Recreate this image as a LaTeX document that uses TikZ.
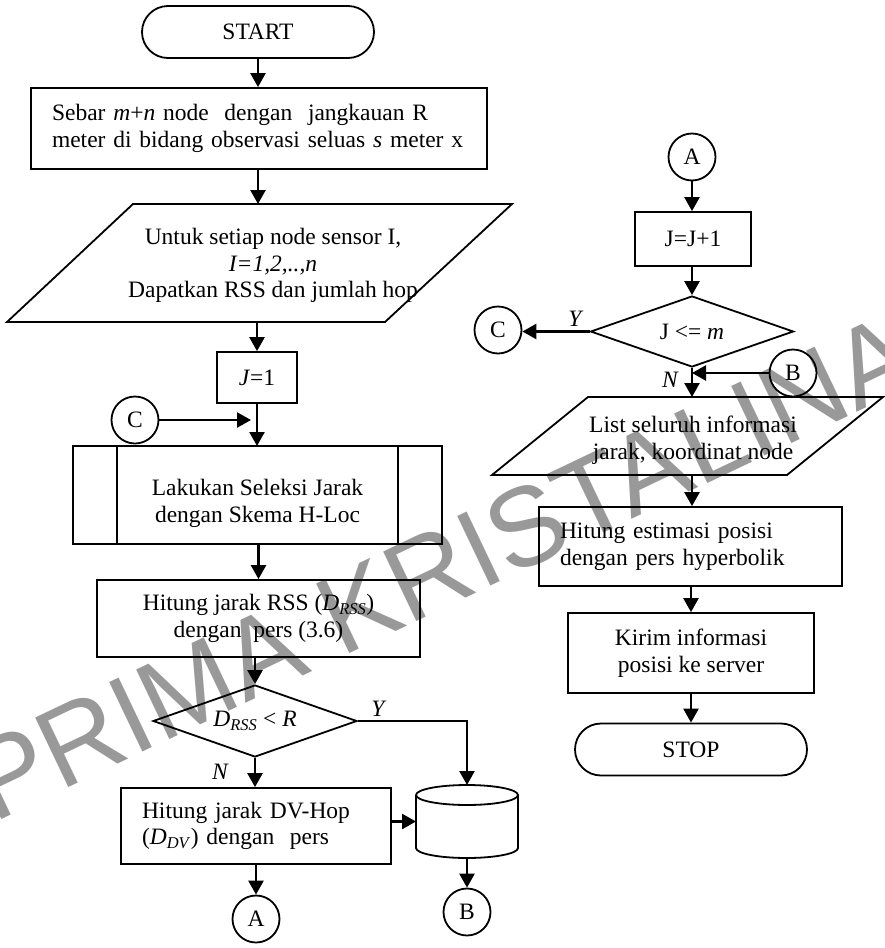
\documentclass[tikz,border=0pt]{standalone}
\usepackage{fontspec}
\setmainfont{Liberation Serif}
\newfontfamily\markfont{Liberation Sans}
\usetikzlibrary{arrows.meta,shapes.geometric,calc}

\begin{document}
\begin{tikzpicture}[x=1pt,y=-1pt,
  font=\fontsize{23.5}{26.5}\selectfont,
  shp/.style={draw,line width=1.8pt},
  box/.style={shp,rectangle,inner sep=0pt,align=center},
  frame/.style={inner sep=0pt,outer sep=0pt},
  term/.style={shp,rectangle,rounded corners=26pt,minimum width=232pt,minimum height=52pt,inner sep=0pt},
  conn/.style={shp,circle,minimum size=47pt,inner sep=0pt},
  dec/.style={shp,diamond,inner sep=0pt,aspect=2.8},
  txt/.style={inner sep=0pt,align=center},
  lbl/.style={inner sep=0pt,font=\fontsize{23.5}{26.5}\selectfont\itshape},
  arr/.style={line width=2.5pt,-{Triangle[length=14pt,width=15pt]}},
]
\useasboundingbox (0,0) rectangle (885,948);

% watermark, behind everything
\node[inner sep=0pt,anchor=base west,rotate=25.5,text=black!40,
      font=\markfont\fontsize{112}{112}\selectfont] (wm) at (-7,824) {PRIMA KRISTALINA};

% ---------------- left column ----------------
\node[term] (start) at (258,32) {START};

\node[box,minimum width=456pt,minimum height=81pt,text width=414pt,align=left]
  (b1) at (259,128.5)
  {Sebar \textit{m}+\textit{n} node\ \ dengan\ \ jangkauan R\\meter di bidang observasi seluas \textit{s} meter x};

% input parallelogram
\node[frame,minimum width=505pt,minimum height=118pt] (p1) at (259.5,263) {};
\draw[shp] ([xshift=126pt]p1.north west) -- (p1.north east)
  -- ([xshift=-127pt]p1.south east) -- (p1.south west) -- cycle;
\node[txt] (p1t) at (273,265.5)
  {Untuk setiap node sensor I,\\\textit{I=1,2,..,n}\\Dapatkan RSS dan jumlah hop};

\node[box,minimum width=80pt,minimum height=51pt] (j1) at (257,377.5) {\textit{J}=1};

\node[conn] (c1) at (135,420) {C};

% predefined process
\node[shp,frame,minimum width=369pt,minimum height=98pt] (pp) at (257.5,495) {};
\draw[shp] ([xshift=44pt]pp.north west) -- ([xshift=44pt]pp.south west);
\draw[shp] ([xshift=-44pt]pp.north east) -- ([xshift=-44pt]pp.south east);
\node[txt] (ppt) at (257.5,503.5) {Lakukan Seleksi Jarak\\dengan Skema H-Loc};

\node[box,minimum width=323pt,minimum height=77pt] (rss) at (258.5,618.5)
  {Hitung jarak RSS (\textit{D}\textsubscript{\textit{RSS}})\\dengan\ \ pers (3.6)};

\node[dec,minimum width=204pt,minimum height=72pt] (d1) at (255,721)
  {\textit{D}\textsubscript{\textit{RSS}} < \textit{R}};

\node[box,minimum width=270pt,minimum height=76pt,text width=228pt,align=left]
  (dv) at (256,826)
  {Hitung jarak DV-Hop\\(\textit{D}\textsubscript{\textit{DV}}) dengan\ \ pers};

% storage cylinder
\node[frame,minimum width=102pt,minimum height=73pt] (db) at (467,821.5) {};
\draw[shp] ([yshift=-10pt]db.north west) -- ([yshift=10pt]db.south west)
  arc[start angle=180,end angle=360,x radius=51pt,y radius=10pt]
  -- ([yshift=-10pt]db.north east);
\draw[shp] ([yshift=-10pt]db.north) ellipse[x radius=51pt,y radius=10pt];

\node[conn] (a1) at (256,919) {A};
\node[conn] (b1c) at (467,912) {B};

\node[lbl] (y1) at (378,709) {Y};
\node[lbl] (n1) at (220,772) {N};

% ---------------- right column ----------------
\node[conn] (a2) at (692,157) {A};
\node[box,minimum width=116pt,minimum height=54pt] (j2) at (693,239) {J=J+1};
\node[dec,minimum width=203pt,minimum height=71pt] (d2) at (692,331.5) {J <= \textit{m}};
\node[conn] (c2) at (498,330) {C};
\node[conn] (b2) at (793,373) {B};
\node[lbl] (y2) at (575,319) {Y};
\node[lbl] (n2) at (670,380) {N};

% output parallelogram
\node[frame,minimum width=391pt,minimum height=78pt] (p2) at (687.5,436) {};
\draw[shp] ([xshift=96pt]p2.north west) -- (p2.north east)
  -- ([xshift=-96pt]p2.south east) -- (p2.south west) -- cycle;
\node[txt] (p2t) at (693,440) {List seluruh informasi\\jarak, koordinat node};

\node[box,minimum width=303pt,minimum height=79pt,text width=261pt,align=left]
  (est) at (690.5,546.5) {Hitung estimasi posisi\\dengan pers hyperbolik};
\node[box,minimum width=246pt,minimum height=80pt] (kirim) at (691,653)
  {Kirim informasi\\posisi ke server};
\node[term] (stop) at (691,749.5) {STOP};

% ---------------- connectors ----------------
\draw[arr] (start.south) -- (start.south |- b1.north);
\draw[arr] (b1.south -| start.south) -- (start.south |- p1.north);
\draw[arr] (p1.south -| j1.north) -- (j1.north);
\draw[arr] (j1.south) -- (j1.south |- pp.north);
\draw[arr] (c1.east) -- ($(c1.east -| j1.south)+(-6,0)$);
\draw[arr] (pp.south -| rss.north) -- (rss.north);
\draw[arr] (rss.south -| d1.north) -- (d1.north);
\draw[arr] (d1.south) -- (d1.south |- dv.north);
\draw[arr] (d1.east) -| (db.north);
\draw[arr] (dv.east |- db.west) -- (db.west);
\draw[arr] (dv.south -| a1.north) -- (a1.north);
\draw[arr] (db.south) -- (b1c.north);

\draw[arr] (a2.south) -- (a2.south |- j2.north);
\draw[arr] (j2.south -| d2.north) -- (d2.north);
\draw[arr] (d2.west) -- (d2.west -| c2.east);
\draw[arr] (d2.south) -- (d2.south |- p2.north);
\draw[arr] (b2.west) -- (b2.west -| d2.south);
\draw[arr] (d2.south |- p2.south) -- (d2.south |- est.north);
\draw[arr] (est.south -| kirim.north) -- (kirim.north);
\draw[arr] (kirim.south) -- (kirim.south |- stop.north);
\end{tikzpicture}
\end{document}
